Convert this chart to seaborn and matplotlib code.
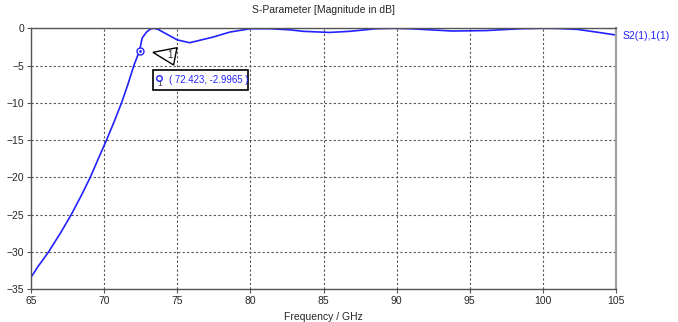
import numpy as np
import pandas as pd
import matplotlib
matplotlib.use("Agg")
import matplotlib.pyplot as plt
import seaborn as sns

# S21 magnitude (dB)
freq = [65.0, 65.48, 66.2, 67.0, 67.75, 68.42, 69.05, 69.6, 70.16, 70.69, 71.19, 71.63,
        72.03, 72.423, 72.6, 72.9, 73.2, 73.4, 73.7, 74.3, 75.0, 75.85, 76.76, 77.45,
        78.6, 80.0, 81.3, 82.7, 83.6, 85.4, 86.8, 88.6, 89.8, 90.9, 92.3, 93.8, 96.1,
        98.5, 100.0, 101.0, 102.4, 104.0, 105.0]
s21_db = [-33.4, -31.95, -30.0, -27.5, -25.0, -22.5, -20.0, -17.5, -15.0, -12.5, -10.0, -7.5,
          -5.0, -2.9965, -1.3, -0.5, -0.05, 0.0, -0.15, -0.8, -1.55, -1.93, -1.5, -1.17,
          -0.5, -0.05, -0.05, -0.2, -0.4, -0.55, -0.4, -0.05, 0.0, -0.05, -0.2, -0.36, -0.3,
          -0.05, 0.0, -0.02, -0.15, -0.6, -0.9]
marker_f = 72.423
marker_db = -2.9965
x_ticks = [65, 70, 75, 80, 85, 90, 95, 100, 105]
y_ticks = [0, -5, -10, -15, -20, -25, -30, -35]

df = pd.DataFrame({"Frequency": freq, "S21": s21_db})

sns.set_style("white")
plt.rcParams["font.family"] = ["Liberation Sans", "DejaVu Sans"]
plt.rcParams["font.size"] = 7.5

fig = plt.figure(figsize=(6.78, 3.22), dpi=100)
ax = fig.add_axes([0.0457, 0.1016, 0.8629, 0.8104])

blue = "#2222ff"
sns.lineplot(data=df, x="Frequency", y="S21", ax=ax, color=blue, linewidth=1.2)

ax.set_xlim(65, 105)
ax.set_ylim(-35, 0)
ax.set_xticks(x_ticks)
ax.set_yticks(y_ticks)
ax.grid(True, linestyle=(0, (2, 2)), color="#555555", linewidth=0.8)
ax.tick_params(axis="both", length=3, width=0.8, color="#555555", pad=2,
               labelsize=7.5, direction="out", left=True, bottom=True)

for side in ["left", "bottom", "top"]:
    ax.spines[side].set_color("#555555")
    ax.spines[side].set_linewidth(1.0)
ax.spines["right"].set_color("#a0a0a0")
ax.spines["right"].set_linewidth(1.6)

ax.set_title("S-Parameter [Magnitude in dB]", fontsize=7.5, pad=11)
ax.set_xlabel("Frequency / GHz", fontsize=7.5, labelpad=4)
ax.set_ylabel("")

# marker on the curve
ax.plot(marker_f, marker_db, marker="o", markersize=5, markerfacecolor="white",
        markeredgecolor=blue, markeredgewidth=1.0, clip_on=False)
ax.plot(marker_f, marker_db, marker=".", markersize=2, color=blue)

# triangle flag with "1"
tri = plt.Polygon([[73.34, -3.22], [74.98, -2.60], [74.75, -4.92]], closed=True,
                  facecolor="white", edgecolor="black", linewidth=1.0, zorder=4)
ax.add_patch(tri)
ax.text(74.5, -3.6, "1", fontsize=7, ha="center", va="center", zorder=5)

# value box
box = plt.Rectangle((73.34, -8.27), 6.48, 2.68, facecolor="white", edgecolor="black",
                    linewidth=1.2, zorder=4)
ax.add_patch(box)
ax.text(74.45, -6.95, "( 72.423, -2.9965 )", fontsize=6.9, color=blue,
        ha="left", va="center", zorder=5)
ax.plot(73.75, -6.7, marker="o", markersize=4, markerfacecolor="white",
        markeredgecolor=blue, markeredgewidth=1.0, zorder=5)
ax.text(73.8, -7.6, "1", fontsize=6, color="#333333", ha="center", va="center", zorder=5)

# trace name at the right
ax.text(1.012, s21_db[-1] - 0.1, "S2(1),1(1)", transform=ax.get_yaxis_transform(),
        fontsize=7.5, color=blue, ha="left", va="center")

fig.savefig("out.png", dpi=100)
